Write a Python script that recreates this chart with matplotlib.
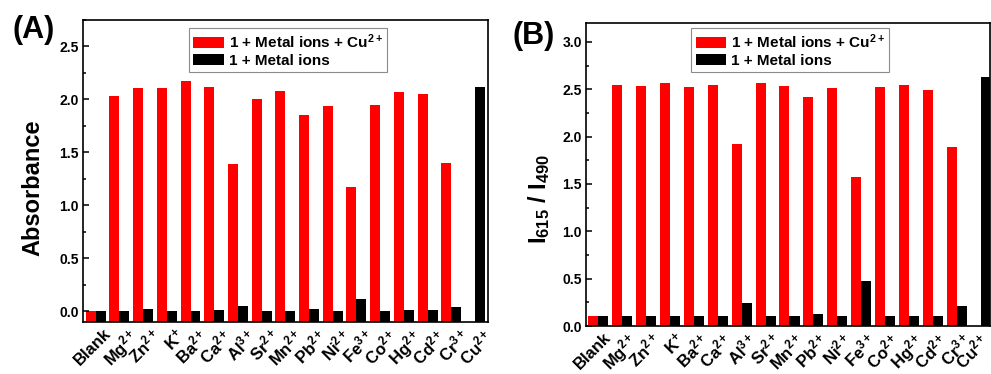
import numpy as np
import matplotlib
matplotlib.use('Agg')
import matplotlib.pyplot as plt
import matplotlib.transforms as mtransforms
from matplotlib.ticker import MultipleLocator

plt.rcParams['font.family'] = ['Liberation Sans', 'DejaVu Sans']
plt.rcParams['font.weight'] = 'bold'
plt.rcParams['mathtext.fontset'] = 'custom'
plt.rcParams['mathtext.rm'] = 'Liberation Sans:bold'
plt.rcParams['mathtext.bf'] = 'Liberation Sans:bold'
plt.rcParams['mathtext.it'] = 'Liberation Sans:bold'
plt.rcParams['mathtext.default'] = 'rm'

# metal ions tested
ions = ['Blank', 'Mg$^{2+}$', 'Zn$^{2+}$', 'K$^{+}$', 'Ba$^{2+}$', 'Ca$^{2+}$',
        'Al$^{3+}$', 'Sr$^{2+}$', 'Mn$^{2+}$', 'Pb$^{2+}$', 'Ni$^{2+}$',
        'Fe$^{3+}$', 'Co$^{2+}$', 'Hg$^{2+}$', 'Cd$^{2+}$', 'Cr$^{3+}$',
        'Cu$^{2+}$']

# (A) absorbance
abs_cu = [0.00, 2.03, 2.11, 2.11, 2.17, 2.12, 1.39, 2.00, 2.08, 1.85, 1.94,
          1.17, 1.95, 2.07, 2.05, 1.40, np.nan]
abs_ions = [0.00, 0.00, 0.02, 0.00, 0.00, 0.01, 0.055, 0.00, 0.00, 0.025,
            0.00, 0.12, 0.00, 0.01, 0.01, 0.045, 2.12]

# (B) fluorescence intensity ratio I615/I490
ratio_cu = [0.11, 2.54, 2.53, 2.57, 2.52, 2.55, 1.92, 2.57, 2.53, 2.42, 2.51,
            1.57, 2.52, 2.54, 2.49, 1.89, np.nan]
ratio_ions = [0.11, 0.11, 0.11, 0.11, 0.11, 0.11, 0.24, 0.11, 0.11, 0.125,
              0.11, 0.48, 0.11, 0.11, 0.11, 0.21, 2.63]

lab_cu = '1 + Metal ions + Cu$^{2+}$'
lab_ions = '1 + Metal ions'


def draw_panel(fig, ax, red, black, ylim, xlim, ylabel, label_coords,
               leg_anchor, shift_in, last_shift_in=0.0):
    x = np.arange(len(ions))
    w = 0.42
    base = ylim[0]
    ax.bar(x - w / 2, np.array(red) - base, w, bottom=base, color='#ff0000',
           linewidth=0, label=lab_cu)
    ax.bar(x + w / 2, np.array(black) - base, w, bottom=base, color='black',
           linewidth=0, label=lab_ions)

    ax.set_xlim(*xlim)
    ax.set_ylim(*ylim)
    ax.yaxis.set_major_locator(MultipleLocator(0.5))
    ax.yaxis.set_minor_locator(MultipleLocator(0.25))
    ax.yaxis.set_major_formatter(plt.FormatStrFormatter('%.1f'))
    ax.tick_params(axis='y', which='major', direction='in', length=4,
                   width=1.1, labelsize=10, pad=3)
    ax.tick_params(axis='y', which='minor', direction='in', length=2.5,
                   width=1.1)
    ax.tick_params(axis='x', length=0, pad=3)
    ax.set_xticks(x)
    ax.set_xticklabels(ions, rotation=45, ha='right', va='top',
                       rotation_mode='anchor', fontsize=12,
                       fontweight='bold')
    # nudge the slanted ion names to the right of each bar pair
    labels = ax.get_xticklabels()
    for i, lbl in enumerate(labels):
        dx = shift_in + (last_shift_in if i == len(labels) - 1 else 0.0)
        shift = mtransforms.ScaledTranslation(dx, 0, fig.dpi_scale_trans)
        lbl.set_transform(lbl.get_transform() + shift)
    for lbl in ax.get_yticklabels():
        lbl.set_fontweight('bold')
    for sp in ax.spines.values():
        sp.set_linewidth(1.2)

    ax.set_ylabel(ylabel, fontsize=17, fontweight='bold')
    ax.yaxis.set_label_coords(*label_coords)

    leg = ax.legend(loc='upper center', bbox_to_anchor=leg_anchor,
                    fancybox=False, framealpha=1, edgecolor='#8c8c8c',
                    fontsize=11, handlelength=2.0, handleheight=0.75,
                    borderpad=0.3, labelspacing=0.2, handletextpad=0.3,
                    borderaxespad=0)
    leg.get_frame().set_linewidth(0.8)
    for t in leg.get_texts():
        t.set_fontweight('bold')


fig = plt.figure(figsize=(9.91, 3.74), dpi=100)
W, H = 991.0, 374.0

ax1 = fig.add_axes([83 / W, 1 - 322 / H, 405 / W, 302 / H])
draw_panel(fig, ax1, abs_cu, abs_ions, (-0.1, 2.75), (-0.536, 16.55),
           'Absorbance', (-0.095, 0.444), (0.506, 0.975), 0.08)

ax2 = fig.add_axes([586 / W, 1 - 326 / H, 403.5 / W, 303 / H])
draw_panel(fig, ax2, ratio_cu, ratio_ions, (0.0, 3.2), (-0.515, 16.37),
           'I$_{615}$ / I$_{490}$', (-0.085, 0.42), (0.506, 0.985), 0.05,
           last_shift_in=-0.07)

fig.text(12 / W, 1 - 15 / H, '(A)', fontsize=22, fontweight='bold', va='top')
fig.text(512 / W, 1 - 21 / H, '(B)', fontsize=22, fontweight='bold', va='top')

fig.savefig('out.png', dpi=100)
